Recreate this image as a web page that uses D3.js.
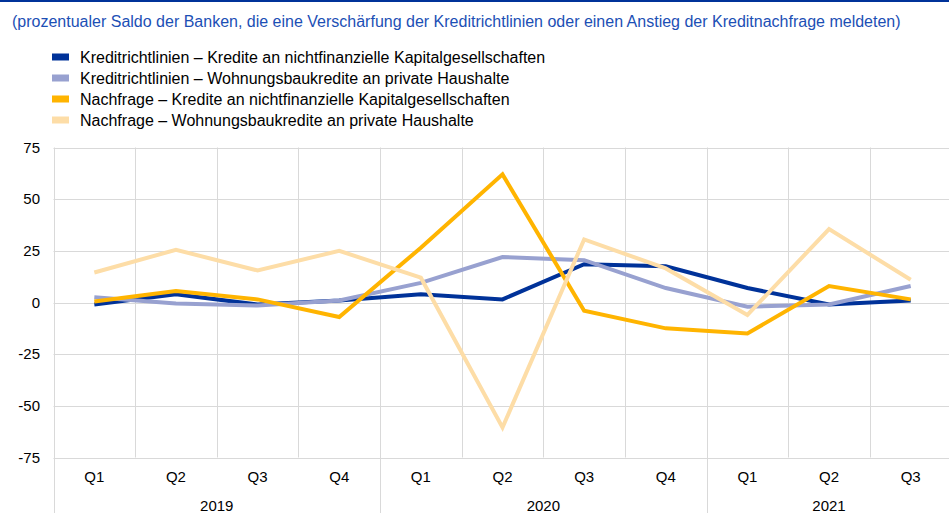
<!DOCTYPE html>
<html lang="de">
<head>
    <meta charset="UTF-8">
    <title>Kreditrichtlinien und Kreditnachfrage</title>
    <script src="https://d3js.org/d3.v7.min.js"></script>
    <style>
        body { margin: 0; background: #fff; }
        svg { display: block; font-family: "Liberation Sans", Arial, sans-serif; }
        .grid line { stroke: #d9d9d9; stroke-width: 1; }
        .tick-label { font-size: 15px; fill: #000; }
        .legend-text { font-size: 16px; fill: #000; }
    </style>
</head>
<body>
<svg width="949" height="513"></svg>
<script>
    // quarters and years
    const quarters = ["Q1", "Q2", "Q3", "Q4", "Q1", "Q2", "Q3", "Q4", "Q1", "Q2", "Q3"];
    const years = [
        { label: "2019", from: 0, to: 4 },
        { label: "2020", from: 4, to: 8 },
        { label: "2021", from: 8, to: 11 }
    ];
    const yTicks = [75, 50, 25, 0, -25, -50, -75];

    // series values
    const standardsNfc = [-1, 4, -1, 1, 4, 1.5, 18.5, 17.5, 7, -1, 1];
    const standardsHouse = [2.5, -0.5, -1.5, 1, 9.5, 22, 20.5, 7, -2, -1, 8];
    const demandNfc = [0.5, 5.5, 1.5, -7, 26.5, 62, -4, -12.5, -15, 8, 1.5];
    const demandHouse = [14.5, 25.5, 15.5, 25, 12, -60.5, 30.5, 16.5, -6, 35.5, 11];

    const seriesNames = [
        "Kreditrichtlinien – Kredite an nichtfinanzielle Kapitalgesellschaften",
        "Kreditrichtlinien – Wohnungsbaukredite an private Haushalte",
        "Nachfrage – Kredite an nichtfinanzielle Kapitalgesellschaften",
        "Nachfrage – Wohnungsbaukredite an private Haushalte"
    ];
    const colors = ["#003299", "#98a1d0", "#ffb400", "#fddda7"];
    const allSeries = [standardsNfc, standardsHouse, demandNfc, demandHouse];

    const svg = d3.select("svg");

    // top rule
    svg.append("rect").attr("x", 0).attr("y", 0).attr("width", 949).attr("height", 2).attr("fill", "#003299");

    // subtitle
    svg.append("text")
        .attr("x", 12).attr("y", 27)
        .attr("fill", "#1c4fb5")
        .style("font-size", "16px")
        .text("(prozentualer Saldo der Banken, die eine Verschärfung der Kreditrichtlinien oder einen Anstieg der Kreditnachfrage meldeten)");

    // legend
    const legend = svg.append("g");
    seriesNames.forEach((name, i) => {
        const yy = 57 + i * 21;
        legend.append("rect").attr("x", 52).attr("y", yy - 3.5).attr("width", 17).attr("height", 7).attr("fill", colors[i]);
        legend.append("text").attr("class", "legend-text").attr("x", 80).attr("y", yy + 5.5).text(name);
    });

    // scales
    const plotLeft = 53.5, plotRight = 951.5, plotTop = 147.5, plotBottom = 457.5;
    const x = d3.scaleBand().domain(d3.range(quarters.length)).range([plotLeft, plotRight]);
    const y = d3.scaleLinear().domain([-75, 75]).range([plotBottom, plotTop]);

    // grid
    const grid = svg.append("g").attr("class", "grid");
    grid.selectAll(".h").data(yTicks).enter().append("line")
        .attr("x1", plotLeft).attr("x2", 949)
        .attr("y1", d => Math.round(y(d)) + 0.5).attr("y2", d => Math.round(y(d)) + 0.5);
    const yearStarts = years.map(d => d.from);
    grid.selectAll(".v").data(d3.range(quarters.length)).enter().append("line")
        .attr("x1", d => Math.round(x(d)) + 0.5).attr("x2", d => Math.round(x(d)) + 0.5)
        .attr("y1", plotTop).attr("y2", d => yearStarts.includes(d) ? 513 : plotBottom);

    // y labels
    svg.selectAll(".ylab").data(yTicks).enter().append("text")
        .attr("class", "tick-label")
        .attr("x", 40).attr("y", d => y(d) + 5)
        .attr("text-anchor", "end")
        .text(d => d);

    // x labels
    svg.selectAll(".qlab").data(quarters).enter().append("text")
        .attr("class", "tick-label")
        .attr("x", (d, i) => x(i) + x.bandwidth() / 2)
        .attr("y", 482)
        .attr("text-anchor", "middle")
        .text(d => d);
    svg.selectAll(".yearlab").data(years).enter().append("text")
        .attr("class", "tick-label")
        .attr("x", d => (x(d.from) + x(d.to - 1) + x.bandwidth()) / 2)
        .attr("y", 511)
        .attr("text-anchor", "middle")
        .text(d => d.label);

    // lines
    const line = d3.line()
        .x((d, i) => x(i) + x.bandwidth() / 2)
        .y(d => y(d));
    allSeries.forEach((vals, i) => {
        svg.append("path")
            .datum(vals)
            .attr("fill", "none")
            .attr("stroke", colors[i])
            .attr("stroke-width", 4)
            .attr("stroke-linejoin", "miter")
            .attr("d", line);
    });
</script>
</body>
</html>
